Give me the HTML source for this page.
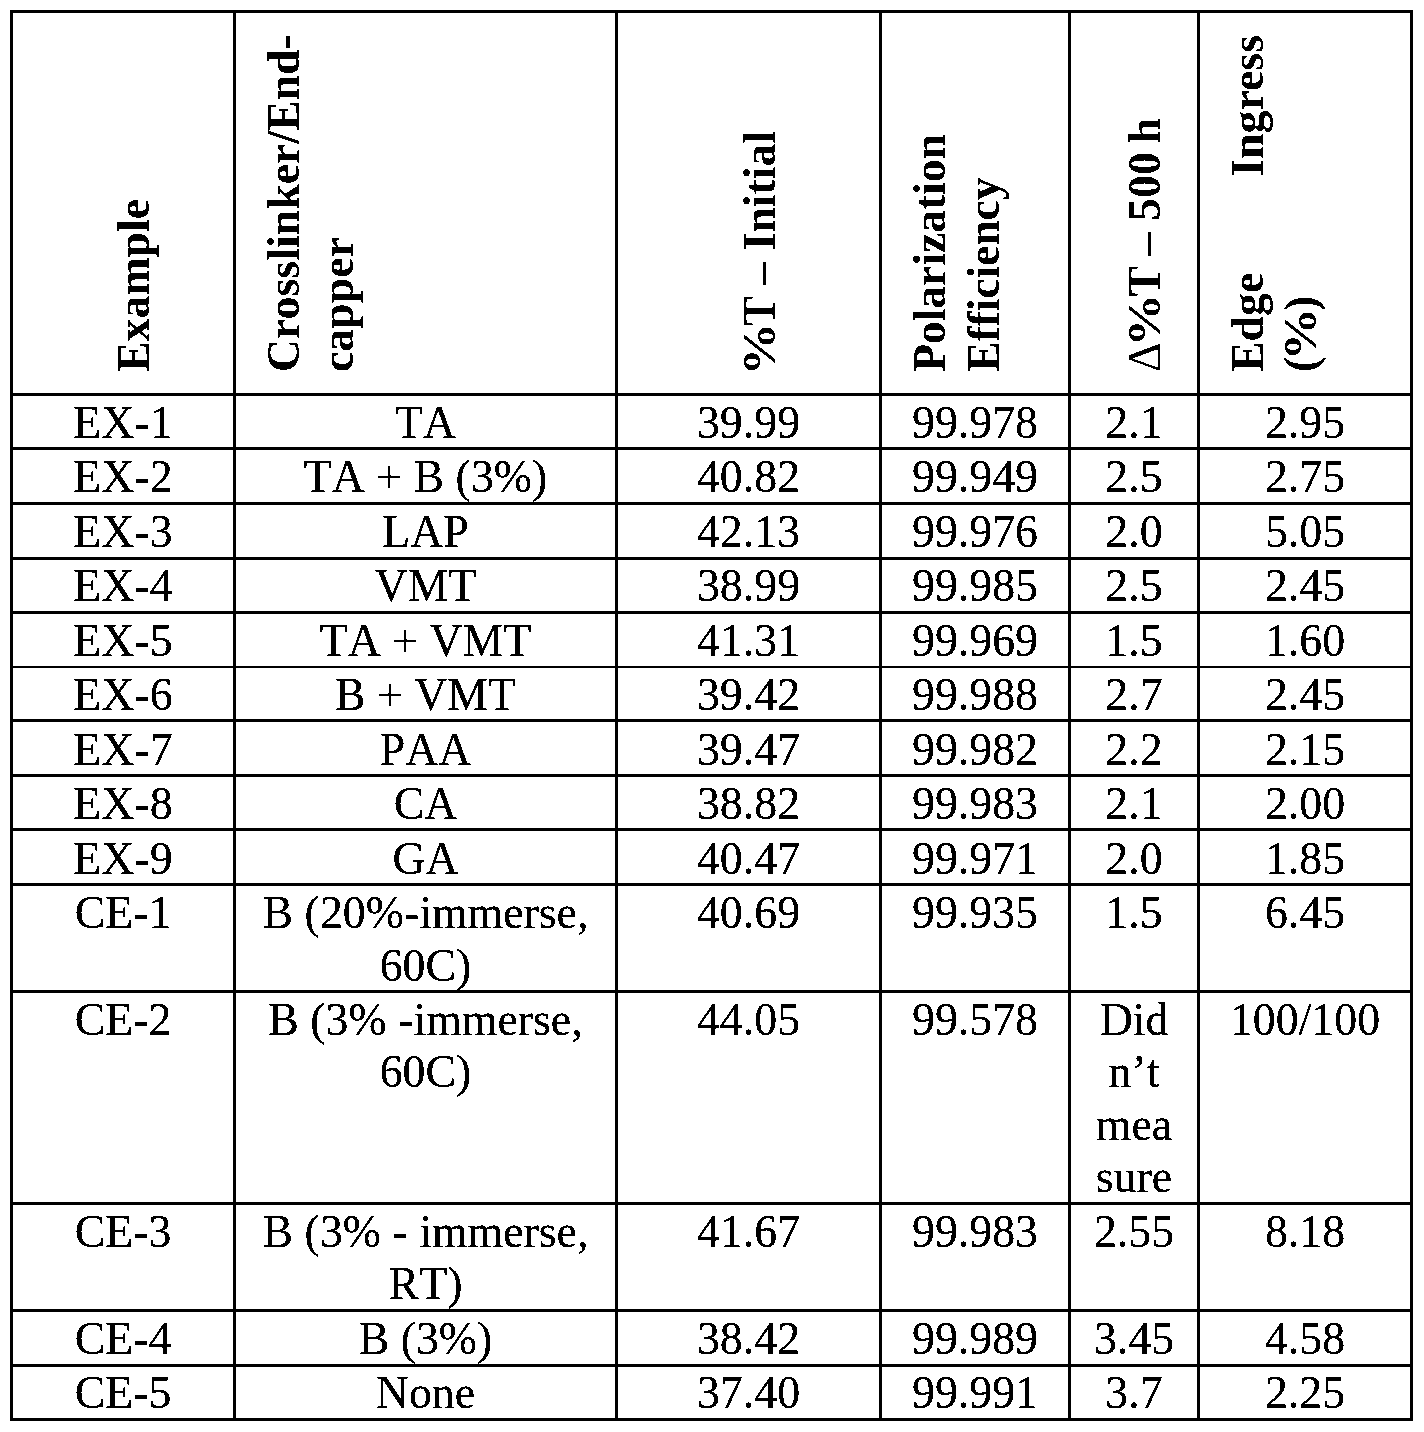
<!DOCTYPE html>
<html lang="en">
<head>
<meta charset="utf-8">
<title>Table</title>
<style>
html,body{margin:0;padding:0;background:#fff;}
body{width:1424px;height:1432px;position:relative;overflow:hidden;font-family:"Liberation Serif","Times New Roman",serif;font-size:45.83px;line-height:52.67px;color:#000;font-variant-ligatures:none;}
#pg{position:absolute;left:0;top:0;width:1424px;height:1432px;background:#fff;}
.g{position:absolute;left:0;top:0;width:1424px;height:1432px;}
#hg{filter:url(#fh);}
#bg{filter:url(#fb);}
.v,.h{position:absolute;background:#000;}
.c{position:absolute;text-align:center;white-space:nowrap;font-kerning:none;}
.hd{position:absolute;font-weight:bold;white-space:nowrap;transform-origin:0 0;transform:rotate(-90deg);text-align:left;}
.j{text-align:justify;text-align-last:justify;white-space:normal;}
.pc{display:inline-block;transform:scaleX(1.15);}
.pd{transform:translateX(-1px) scaleX(1.15);}
.dl{font-weight:normal;display:inline-block;width:28.7px;margin-left:-1px;margin-right:1px;}
</style>
</head>
<body>
<svg width="0" height="0" style="position:absolute" aria-hidden="true"><filter id="fh" x="0" y="0" width="100%" height="100%" color-interpolation-filters="sRGB"><feComponentTransfer><feFuncA type="discrete" tableValues="0 1"/></feComponentTransfer></filter><filter id="fb" x="0" y="0" width="100%" height="100%" color-interpolation-filters="sRGB"><feComponentTransfer><feFuncA type="discrete" tableValues="0 1 1"/></feComponentTransfer></filter></svg>
<div id="pg" role="table">

<div id="gl" aria-hidden="true">
<div class="v" style="left:10px;top:10px;width:3px;height:1411px"></div>
<div class="v" style="left:233px;top:10px;width:3px;height:1411px"></div>
<div class="v" style="left:615px;top:10px;width:3px;height:1411px"></div>
<div class="v" style="left:879px;top:10px;width:3px;height:1411px"></div>
<div class="v" style="left:1068px;top:10px;width:3px;height:1411px"></div>
<div class="v" style="left:1197px;top:10px;width:3px;height:1411px"></div>
<div class="v" style="left:1410px;top:10px;width:3px;height:1411px"></div>
<div class="h" style="left:10px;top:10px;width:1403px;height:3px"></div>
<div class="h" style="left:10px;top:393px;width:1403px;height:3px"></div>
<div class="h" style="left:10px;top:447px;width:1403px;height:3px"></div>
<div class="h" style="left:10px;top:502px;width:1403px;height:3px"></div>
<div class="h" style="left:10px;top:557px;width:1403px;height:3px"></div>
<div class="h" style="left:10px;top:611px;width:1403px;height:3px"></div>
<div class="h" style="left:10px;top:666px;width:1403px;height:2px"></div>
<div class="h" style="left:10px;top:719px;width:1403px;height:3px"></div>
<div class="h" style="left:10px;top:774px;width:1403px;height:3px"></div>
<div class="h" style="left:10px;top:828px;width:1403px;height:3px"></div>
<div class="h" style="left:10px;top:883px;width:1403px;height:3px"></div>
<div class="h" style="left:10px;top:990px;width:1403px;height:3px"></div>
<div class="h" style="left:10px;top:1202px;width:1403px;height:3px"></div>
<div class="h" style="left:10px;top:1309px;width:1403px;height:3px"></div>
<div class="h" style="left:10px;top:1364px;width:1403px;height:3px"></div>
<div class="h" style="left:10px;top:1418px;width:1403px;height:3px"></div>
</div>
<div class="g" id="hg" role="row">
<div role="columnheader">
  <div class="hd" style="left:108.20px;top:372px">Example</div>
</div>
<div role="columnheader">
  <div class="hd" style="left:257.90px;top:372px">Crosslinker/End-</div>
  <div class="hd" style="left:311.90px;top:372px">capper</div>
</div>
<div role="columnheader">
  <div class="hd" style="left:733.70px;top:372px"><span class="pc">%</span>T – Initial</div>
</div>
<div role="columnheader">
  <div class="hd" style="left:903.70px;top:372px"><span style="letter-spacing:-0.12px">Polarization</span></div>
  <div class="hd" style="left:957.70px;top:372px"><span style="letter-spacing:-0.15px">Efficiency</span></div>
</div>
<div role="columnheader">
  <div class="hd" style="left:1119.20px;top:371px"><span class="dl">Δ</span><span class="pc pd">%</span>T – 500 <span style="margin-left:-2.5px">h</span></div>
</div>
<div role="columnheader">
  <div class="hd j" style="left:1222.20px;top:372px;width:337px">Edge Ingress</div>
  <div class="hd" style="left:1275.40px;top:372px">(<span class="pc">%</span>)</div>
</div>
</div>
<div class="g" id="bg" role="rowgroup">
<div role="row">
  <div role="cell"><div class="c" style="left:13px;top:397px;width:220px">EX-1</div></div>
  <div role="cell"><div class="c" style="left:236px;top:397px;width:379px">TA</div></div>
  <div role="cell"><div class="c" style="left:618px;top:397px;width:261px">39.99</div></div>
  <div role="cell"><div class="c" style="left:882px;top:397px;width:186px">99.978</div></div>
  <div role="cell"><div class="c" style="left:1071px;top:397px;width:126px">2.1</div></div>
  <div role="cell"><div class="c" style="left:1200px;top:397px;width:210px">2.95</div></div>
</div>
<div role="row">
  <div role="cell"><div class="c" style="left:13px;top:451px;width:220px">EX-2</div></div>
  <div role="cell"><div class="c" style="left:236px;top:451px;width:379px">TA + B (3%)</div></div>
  <div role="cell"><div class="c" style="left:618px;top:451px;width:261px">40.82</div></div>
  <div role="cell"><div class="c" style="left:882px;top:451px;width:186px">99.949</div></div>
  <div role="cell"><div class="c" style="left:1071px;top:451px;width:126px">2.5</div></div>
  <div role="cell"><div class="c" style="left:1200px;top:451px;width:210px">2.75</div></div>
</div>
<div role="row">
  <div role="cell"><div class="c" style="left:13px;top:506px;width:220px">EX-3</div></div>
  <div role="cell"><div class="c" style="left:236px;top:506px;width:379px">LAP</div></div>
  <div role="cell"><div class="c" style="left:618px;top:506px;width:261px">42.13</div></div>
  <div role="cell"><div class="c" style="left:882px;top:506px;width:186px">99.976</div></div>
  <div role="cell"><div class="c" style="left:1071px;top:506px;width:126px">2.0</div></div>
  <div role="cell"><div class="c" style="left:1200px;top:506px;width:210px">5.05</div></div>
</div>
<div role="row">
  <div role="cell"><div class="c" style="left:13px;top:560px;width:220px">EX-4</div></div>
  <div role="cell"><div class="c" style="left:236px;top:560px;width:379px">VMT</div></div>
  <div role="cell"><div class="c" style="left:618px;top:560px;width:261px">38.99</div></div>
  <div role="cell"><div class="c" style="left:882px;top:560px;width:186px">99.985</div></div>
  <div role="cell"><div class="c" style="left:1071px;top:560px;width:126px">2.5</div></div>
  <div role="cell"><div class="c" style="left:1200px;top:560px;width:210px">2.45</div></div>
</div>
<div role="row">
  <div role="cell"><div class="c" style="left:13px;top:615px;width:220px">EX-5</div></div>
  <div role="cell"><div class="c" style="left:236px;top:615px;width:379px">TA + VMT</div></div>
  <div role="cell"><div class="c" style="left:618px;top:615px;width:261px">41.31</div></div>
  <div role="cell"><div class="c" style="left:882px;top:615px;width:186px">99.969</div></div>
  <div role="cell"><div class="c" style="left:1071px;top:615px;width:126px">1.5</div></div>
  <div role="cell"><div class="c" style="left:1200px;top:615px;width:210px">1.60</div></div>
</div>
<div role="row">
  <div role="cell"><div class="c" style="left:13px;top:669px;width:220px">EX-6</div></div>
  <div role="cell"><div class="c" style="left:236px;top:669px;width:379px">B + VMT</div></div>
  <div role="cell"><div class="c" style="left:618px;top:669px;width:261px">39.42</div></div>
  <div role="cell"><div class="c" style="left:882px;top:669px;width:186px">99.988</div></div>
  <div role="cell"><div class="c" style="left:1071px;top:669px;width:126px">2.7</div></div>
  <div role="cell"><div class="c" style="left:1200px;top:669px;width:210px">2.45</div></div>
</div>
<div role="row">
  <div role="cell"><div class="c" style="left:13px;top:724px;width:220px">EX-7</div></div>
  <div role="cell"><div class="c" style="left:236px;top:724px;width:379px">PAA</div></div>
  <div role="cell"><div class="c" style="left:618px;top:724px;width:261px">39.47</div></div>
  <div role="cell"><div class="c" style="left:882px;top:724px;width:186px">99.982</div></div>
  <div role="cell"><div class="c" style="left:1071px;top:724px;width:126px">2.2</div></div>
  <div role="cell"><div class="c" style="left:1200px;top:724px;width:210px">2.15</div></div>
</div>
<div role="row">
  <div role="cell"><div class="c" style="left:13px;top:778px;width:220px">EX-8</div></div>
  <div role="cell"><div class="c" style="left:236px;top:778px;width:379px">CA</div></div>
  <div role="cell"><div class="c" style="left:618px;top:778px;width:261px">38.82</div></div>
  <div role="cell"><div class="c" style="left:882px;top:778px;width:186px">99.983</div></div>
  <div role="cell"><div class="c" style="left:1071px;top:778px;width:126px">2.1</div></div>
  <div role="cell"><div class="c" style="left:1200px;top:778px;width:210px">2.00</div></div>
</div>
<div role="row">
  <div role="cell"><div class="c" style="left:13px;top:833px;width:220px">EX-9</div></div>
  <div role="cell"><div class="c" style="left:236px;top:833px;width:379px">GA</div></div>
  <div role="cell"><div class="c" style="left:618px;top:833px;width:261px">40.47</div></div>
  <div role="cell"><div class="c" style="left:882px;top:833px;width:186px">99.971</div></div>
  <div role="cell"><div class="c" style="left:1071px;top:833px;width:126px">2.0</div></div>
  <div role="cell"><div class="c" style="left:1200px;top:833px;width:210px">1.85</div></div>
</div>
<div role="row">
  <div role="cell"><div class="c" style="left:13px;top:887px;width:220px">CE-1</div></div>
  <div role="cell"><div class="c" style="left:236px;top:887px;width:379px">B (20%-immerse,</div><div class="c" style="left:236px;top:940px;width:379px">60C)</div></div>
  <div role="cell"><div class="c" style="left:618px;top:887px;width:261px">40.69</div></div>
  <div role="cell"><div class="c" style="left:882px;top:887px;width:186px">99.935</div></div>
  <div role="cell"><div class="c" style="left:1071px;top:887px;width:126px">1.5</div></div>
  <div role="cell"><div class="c" style="left:1200px;top:887px;width:210px">6.45</div></div>
</div>
<div role="row">
  <div role="cell"><div class="c" style="left:13px;top:994px;width:220px">CE-2</div></div>
  <div role="cell"><div class="c" style="left:236px;top:994px;width:379px">B (3% -immerse,</div><div class="c" style="left:236px;top:1046px;width:379px">60C)</div></div>
  <div role="cell"><div class="c" style="left:618px;top:994px;width:261px">44.05</div></div>
  <div role="cell"><div class="c" style="left:882px;top:994px;width:186px">99.578</div></div>
  <div role="cell"><div class="c" style="left:1071px;top:994px;width:126px">Did</div><div class="c" style="left:1071px;top:1046px;width:126px">n’t</div><div class="c" style="left:1071px;top:1099px;width:126px">mea</div><div class="c" style="left:1071px;top:1151px;width:126px">sure</div></div>
  <div role="cell"><div class="c" style="left:1200px;top:994px;width:210px">100/100</div></div>
</div>
<div role="row">
  <div role="cell"><div class="c" style="left:13px;top:1206px;width:220px">CE-3</div></div>
  <div role="cell"><div class="c" style="left:236px;top:1206px;width:379px">B (3% - immerse,</div><div class="c" style="left:236px;top:1258px;width:379px">RT)</div></div>
  <div role="cell"><div class="c" style="left:618px;top:1206px;width:261px">41.67</div></div>
  <div role="cell"><div class="c" style="left:882px;top:1206px;width:186px">99.983</div></div>
  <div role="cell"><div class="c" style="left:1071px;top:1206px;width:126px">2.55</div></div>
  <div role="cell"><div class="c" style="left:1200px;top:1206px;width:210px">8.18</div></div>
</div>
<div role="row">
  <div role="cell"><div class="c" style="left:13px;top:1313px;width:220px">CE-4</div></div>
  <div role="cell"><div class="c" style="left:236px;top:1313px;width:379px">B (3%)</div></div>
  <div role="cell"><div class="c" style="left:618px;top:1313px;width:261px">38.42</div></div>
  <div role="cell"><div class="c" style="left:882px;top:1313px;width:186px">99.989</div></div>
  <div role="cell"><div class="c" style="left:1071px;top:1313px;width:126px">3.45</div></div>
  <div role="cell"><div class="c" style="left:1200px;top:1313px;width:210px">4.58</div></div>
</div>
<div role="row">
  <div role="cell"><div class="c" style="left:13px;top:1367px;width:220px">CE-5</div></div>
  <div role="cell"><div class="c" style="left:236px;top:1367px;width:379px">None</div></div>
  <div role="cell"><div class="c" style="left:618px;top:1367px;width:261px">37.40</div></div>
  <div role="cell"><div class="c" style="left:882px;top:1367px;width:186px">99.991</div></div>
  <div role="cell"><div class="c" style="left:1071px;top:1367px;width:126px">3.7</div></div>
  <div role="cell"><div class="c" style="left:1200px;top:1367px;width:210px">2.25</div></div>
</div>
</div>
</div>
</body>
</html>
